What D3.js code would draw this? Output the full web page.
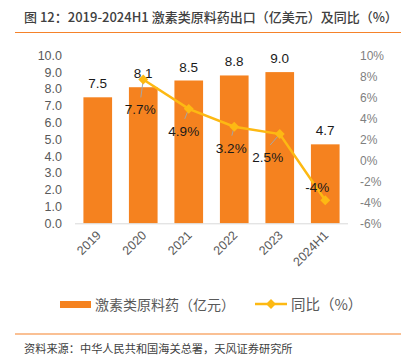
<!DOCTYPE html>
<html><head><meta charset="utf-8">
<script src="https://cdn.jsdelivr.net/npm/d3@7"></script>
<style>body{margin:0;background:#fff}svg{display:block}</style>
</head><body>
<script>
const categories = ["2019","2020","2021","2022","2023","2024H1"];
const exportValues = [7.5, 8.1, 8.5, 8.8, 9.0, 4.7];
const yoyValues = [null, 7.7, 4.9, 3.2, 2.5, -3.8];
const yoyLabels = [null, "7.7%", "4.9%", "3.2%", "2.5%", "-4%"];
const leftTicks = [0,1,2,3,4,5,6,7,8,9,10];
const rightTicks = [-6,-4,-2,0,2,4,6,8,10];

const W = 415, H = 356;
const svg = d3.select("body").append("svg").attr("width", W).attr("height", H);
const font = "'Noto Sans CJK SC', 'Liberation Sans', Arial, sans-serif";
const gray = "#595959";

// title
svg.append("text").attr("x", 24).attr("y", 22).attr("font-family", font)
  .attr("font-size", 13).attr("font-weight", 500).attr("fill", "#404040")
  .text("图 12：2019-2024H1 激素类原料药出口（亿美元）及同比（%）");
svg.append("line").attr("x1", 15).attr("x2", 401).attr("y1", 32.5).attr("y2", 32.5)
  .attr("stroke", "#F5822A").attr("stroke-width", 1.2);

const x = d3.scaleBand().domain(categories).range([75, 348]).paddingInner(0.37).paddingOuter(0.185);
const yL = d3.scaleLinear().domain([0, 10]).range([223.3, 55.3]);
const yR = d3.scaleLinear().domain([-6, 10]).range([223.3, 55.3]);

// left axis
const gL = svg.append("g").attr("transform", "translate(62,0)")
  .call(d3.axisLeft(yL).tickValues(leftTicks).tickFormat(d3.format(".1f")).tickSize(0).tickPadding(0));
gL.select(".domain").remove();
gL.selectAll("text").attr("font-family", "'Liberation Sans', Arial, sans-serif").attr("font-size", 12.5).attr("fill", gray);

// right axis
const gR = svg.append("g").attr("transform", "translate(360,0)")
  .call(d3.axisRight(yR).tickValues(rightTicks).tickFormat(d => d + "%").tickSize(0).tickPadding(0));
gR.select(".domain").remove();
gR.selectAll("text").attr("font-family", "'Liberation Sans Narrow', 'Liberation Sans', Arial, sans-serif").attr("font-size", 12).attr("fill", "#7f7f7f");

// bars
svg.selectAll("rect.bar").data(categories).enter().append("rect")
  .attr("x", d => x(d)).attr("width", x.bandwidth())
  .attr("y", (d, i) => yL(exportValues[i])).attr("height", (d, i) => yL(0) - yL(exportValues[i]))
  .attr("fill", "#F5821F");

// baseline
svg.append("line").attr("x1", 75).attr("x2", 348).attr("y1", 223.8).attr("y2", 223.8)
  .attr("stroke", "#d9d9d9").attr("stroke-width", 1);

// bar labels
svg.selectAll("text.bl").data(categories).enter().append("text")
  .attr("x", d => x(d) + x.bandwidth() / 2).attr("y", (d, i) => yL(exportValues[i]) - 9)
  .attr("text-anchor", "middle").attr("font-family", "'Liberation Sans', Arial, sans-serif")
  .attr("font-size", 13.5).attr("fill", "#1a1a1a").text((d, i) => exportValues[i].toFixed(1));

// x labels
svg.selectAll("text.xl").data(categories).enter().append("text")
  .attr("transform", d => `translate(${x(d) + x.bandwidth() / 2 + 4},236) rotate(-45)`)
  .attr("text-anchor", "end").attr("font-family", "'Liberation Sans', Arial, sans-serif")
  .attr("font-size", 12.5).attr("fill", gray).text(d => d);

// line
const pts = categories.map((c, i) => ({c, v: yoyValues[i], l: yoyLabels[i]})).filter(p => p.v !== null);
const lineColor = "#FDB913";

// leader lines and labels
const offsets = [[-3, 30], [-5, 22], [-3, 21], [-12, 23], [-8, -13]];
pts.forEach((p, i) => {
  const cx = x(p.c) + x.bandwidth() / 2, cy = yR(p.v);
  const [dx, dy] = offsets[i];
  const ly = cy + dy;
  const ey = dy > 0 ? ly - 12 : ly + 3;
  svg.append("line").attr("x1", cx).attr("y1", cy).attr("x2", cx + dx * 0.8).attr("y2", ey)
    .attr("stroke", "#a6a6a6").attr("stroke-width", 1);
});

svg.append("path").datum(pts)
  .attr("d", d3.line().x(p => x(p.c) + x.bandwidth() / 2).y(p => yR(p.v)))
  .attr("fill", "none").attr("stroke", lineColor).attr("stroke-width", 2.5);
svg.selectAll("path.mk").data(pts).enter().append("path")
  .attr("transform", p => `translate(${x(p.c) + x.bandwidth() / 2},${yR(p.v)}) rotate(45)`)
  .attr("d", "M-3.5,-3.5H3.5V3.5H-3.5Z").attr("fill", lineColor);

pts.forEach((p, i) => {
  const cx = x(p.c) + x.bandwidth() / 2, cy = yR(p.v);
  const [dx, dy] = offsets[i];
  svg.append("text").attr("x", cx + dx).attr("y", cy + dy + 5)
    .attr("text-anchor", "middle").attr("font-family", "'Liberation Sans', Arial, sans-serif")
    .attr("font-size", 13.5).attr("fill", "#1a1a1a").text(p.l);
});

// legend
svg.append("rect").attr("x", 60).attr("y", 301).attr("width", 31).attr("height", 7).attr("fill", "#F5821F");
svg.append("text").attr("x", 95).attr("y", 310).attr("font-family", font).attr("font-size", 14)
  .attr("fill", gray).text("激素类原料药（亿元）");
svg.append("line").attr("x1", 255).attr("x2", 287).attr("y1", 304).attr("y2", 304)
  .attr("stroke", lineColor).attr("stroke-width", 2.5);
svg.append("path").attr("transform", "translate(271,304) rotate(45)")
  .attr("d", "M-3.5,-3.5H3.5V3.5H-3.5Z").attr("fill", lineColor);
svg.append("text").attr("x", 291).attr("y", 310).attr("font-family", font).attr("font-size", 14.5)
  .attr("fill", gray).text("同比（%）");

// bottom rule and source
svg.append("line").attr("x1", 15).attr("x2", 401).attr("y1", 334).attr("y2", 334)
  .attr("stroke", "#F5822A").attr("stroke-width", 1.2);
svg.append("text").attr("x", 24).attr("y", 353).attr("font-family", font).attr("font-size", 11.2)
  .attr("fill", "#404040").text("资料来源：中华人民共和国海关总署，天风证券研究所");
</script>
</body></html>
